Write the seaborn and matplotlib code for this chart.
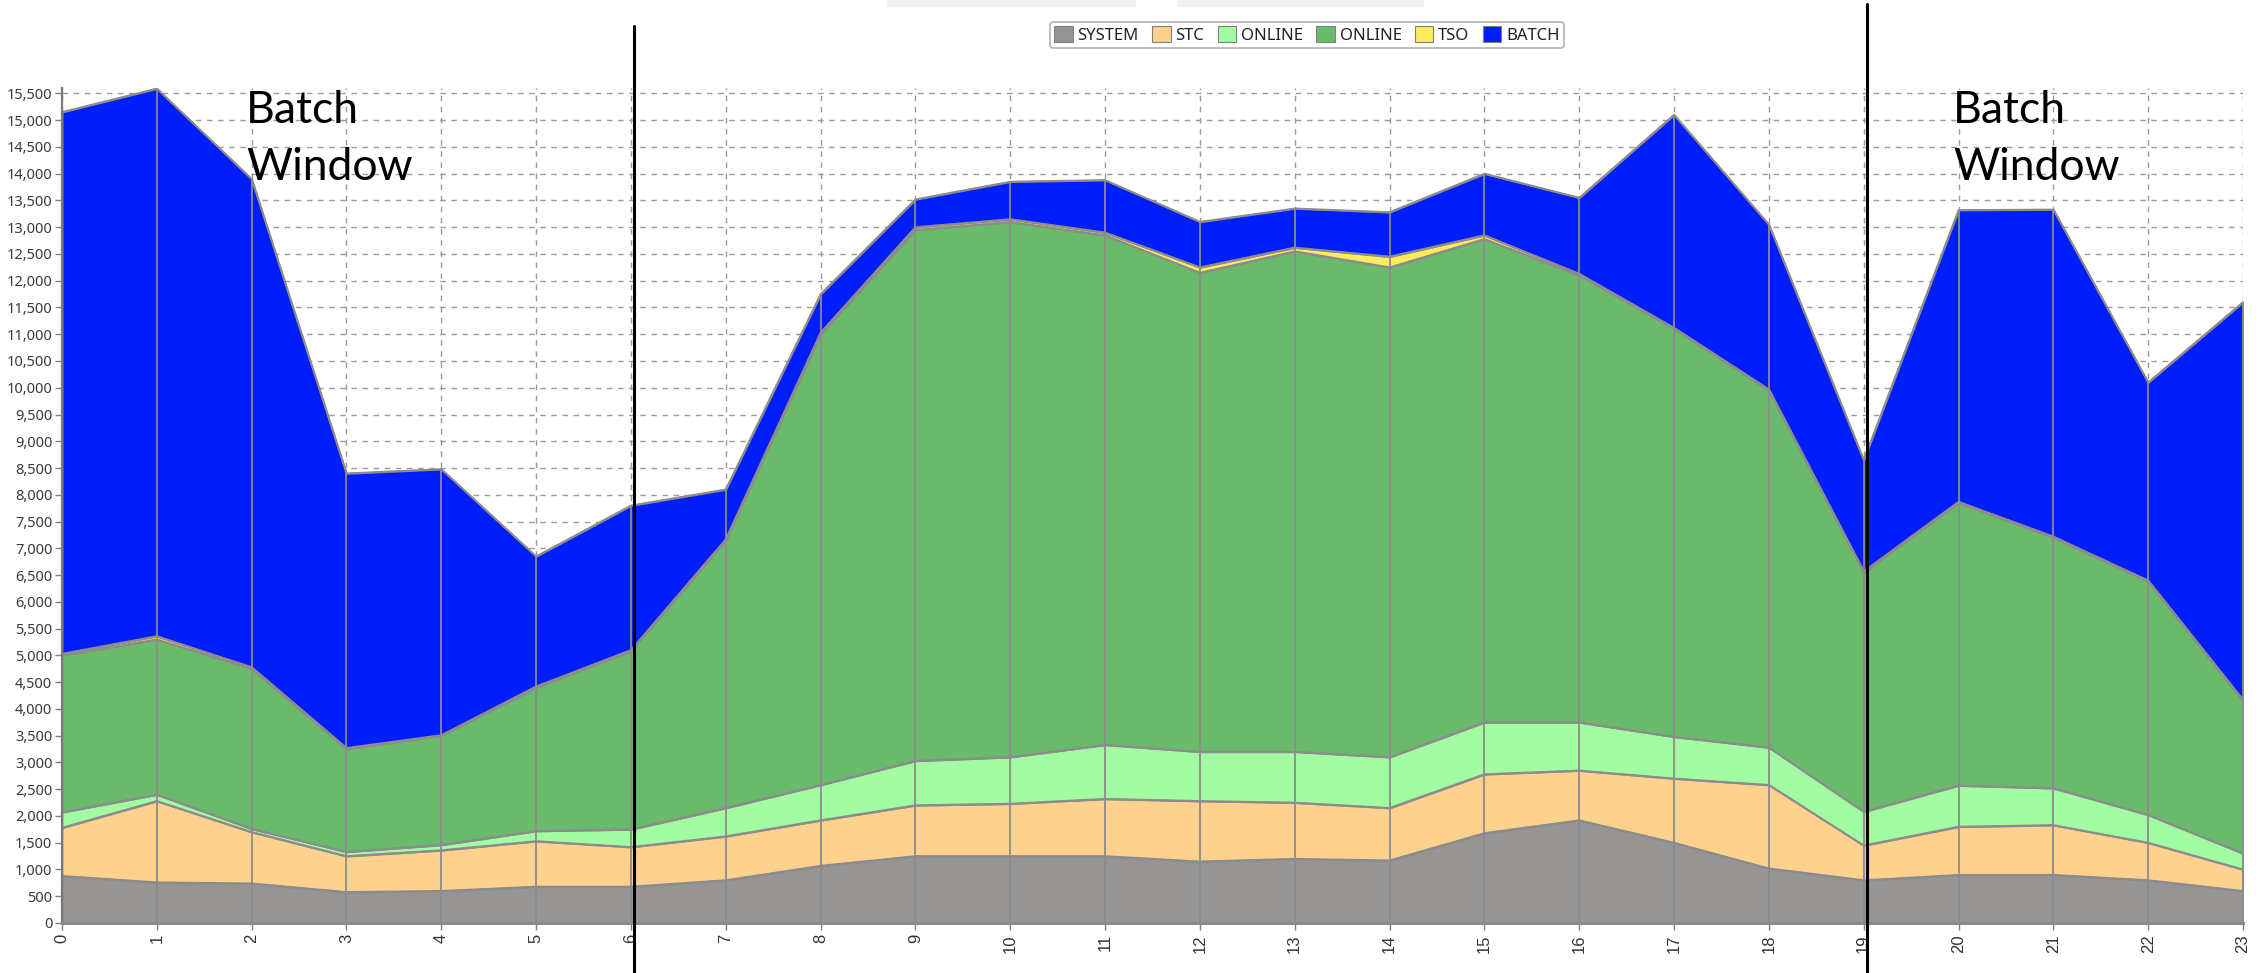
import numpy as np
import pandas as pd
import seaborn as sns
import matplotlib
matplotlib.use("Agg")
import matplotlib.pyplot as plt
from matplotlib.patches import Patch, Rectangle
from matplotlib.lines import Line2D
import matplotlib.transforms as mtransforms
from matplotlib.ticker import MultipleLocator, FuncFormatter

# ---------------- data ----------------
hours = list(range(24))
hour_labels = [str(h) for h in hours]

system = [880, 760, 740, 580, 600, 680, 680, 800, 1070, 1250, 1250, 1250,
          1150, 1200, 1170, 1680, 1920, 1500, 1020, 800, 900, 900, 800, 600]
stc = [900, 1520, 960, 670, 760, 850, 740, 820, 850, 950, 980, 1070,
       1130, 1050, 980, 1100, 930, 1200, 1560, 650, 900, 930, 700, 400]
online_light = [290, 120, 60, 80, 100, 190, 330, 530, 660, 830, 870, 1010,
                920, 950, 950, 970, 900, 780, 700, 630, 770, 690, 520, 300]
online = [2930, 2900, 2990, 1920, 2040, 2680, 3330, 5000, 8420, 9920, 10000, 9520,
          8950, 9350, 9150, 9030, 8350, 7620, 6670, 4470, 5280, 4680, 4360, 2850]
tso = [30, 60, 30, 20, 10, 20, 20, 20, 30, 50, 50, 50,
       100, 70, 200, 70, 30, 20, 20, 20, 20, 20, 20, 20]
batch = [10120, 10230, 9120, 5130, 4970, 2430, 2700, 930, 720, 520, 700, 980,
         850, 730, 830, 1150, 1420, 3980, 3080, 2080, 5450, 6110, 3700, 7430]

series_names = ["SYSTEM", "STC", "ONLINE", "ONLINE", "TSO", "BATCH"]
series_values = [system, stc, online_light, online, tso, batch]
colors = ["#969594", "#FFD18E", "#A2FCA2", "#69BB6B", "#FFEC5C", "#001EFA"]
edge_col = "#8c8c8c"

# ---------------- style ----------------
sns.set_theme(style="white")
plt.rcParams['font.family'] = ['Noto Sans', 'DejaVu Sans']

W, H = 2256, 973
fig = plt.figure(figsize=(W / 100, H / 100), dpi=100)
ax_left, ax_right, ax_bottom, ax_top = 62, 2243, 923, 88
ax = fig.add_axes([ax_left / W, 1 - ax_bottom / H,
                   (ax_right - ax_left) / W, (ax_bottom - ax_top) / H])

# stacked areas
ax.stackplot(hours, *series_values, colors=colors, edgecolor=edge_col,
             linewidth=1.3, zorder=2)

# layer boundary lines through seaborn
cum = np.cumsum(np.array(series_values), axis=0)
long_df = pd.DataFrame({
    "hour": np.tile(hours, len(series_values)),
    "value": cum.ravel(),
    "layer": np.repeat([f"L{i}" for i in range(len(series_values))], len(hours)),
})
sns.lineplot(data=long_df, x="hour", y="value", units="layer", estimator=None,
             color=edge_col, linewidth=1.3, legend=False, ax=ax, zorder=3)

# vertical divider lines inside the filled area
totals = cum[-1]
ax.vlines(hours, 0, totals, colors=edge_col, linewidth=1.3, zorder=3)

ax.set_xlim(0, 23)
ax.set_ylim(0, 15600)
ax.set_xlabel("")
ax.set_ylabel("")

ax.yaxis.set_major_locator(MultipleLocator(500))
ax.yaxis.set_major_formatter(FuncFormatter(lambda v, p: f"{int(v):,}"))
ax.set_xticks(hours)
ax.set_xticklabels(hour_labels, rotation=90, fontsize=12, color="#333333",
                   family=["Liberation Sans", "DejaVu Sans"])

ax.grid(True, color="#9a9a9a", linestyle=(0, (4, 4)), linewidth=1.0)
ax.set_axisbelow(True)

for s in ["top", "right"]:
    ax.spines[s].set_visible(False)
ax.spines["left"].set_color("#7a7a7a")
ax.spines["left"].set_linewidth(1.6)
ax.spines["bottom"].set_color("#8a8a8a")
ax.spines["bottom"].set_linewidth(2.2)
ax.spines["left"].set_zorder(5)
ax.spines["bottom"].set_zorder(5)

ax.tick_params(axis="y", left=True, length=5, width=1, color="#808080",
               labelsize=10.5, labelcolor="#3a3a3a", pad=2)
ax.tick_params(axis="x", bottom=True, length=5, width=1, color="#808080",
               pad=3)

# black separators (batch window boundaries)
trans = mtransforms.blended_transform_factory(ax.transData, fig.transFigure)
fig.add_artist(Line2D([6.03, 6.03], [0, 1 - 26 / H], transform=trans,
                      color="black", linewidth=2.2, zorder=10))
fig.add_artist(Line2D([19.03, 19.03], [0, 1 - 4 / H], transform=trans,
                      color="black", linewidth=2.2, zorder=10))

# "Batch Window" annotations
for xpix in (246, 1953):
    fig.text(xpix / W, 1 - 90 / H, "Batch\nWindow", fontsize=32,
             family=["Lato", "DejaVu Sans"], color="black", va="top",
             ha="left", linespacing=1.5, zorder=11)

# faint tab remnants at top
for x0, x1 in ((887, 1135), (1178, 1423)):
    fig.add_artist(Rectangle((x0 / W, 1 - 6 / H), (x1 - x0) / W, 6 / H,
                             transform=fig.transFigure, color="#f0f0f0",
                             zorder=0))

# legend
handles = [Patch(facecolor=c, edgecolor="#808080", linewidth=0.8) for c in colors]
leg = fig.legend(handles, series_names, loc="center",
                 bbox_to_anchor=(1307 / W, 1 - 35 / H), ncol=6, fontsize=12,
                 frameon=True, fancybox=True, edgecolor="#a0a0a0",
                 handlelength=1.1, handleheight=1.1, handletextpad=0.3,
                 columnspacing=0.8, borderpad=0.25)
leg.get_frame().set_linewidth(1.2)
for t in leg.get_texts():
    t.set_color("#222222")

fig.savefig("out.png", dpi=100)
